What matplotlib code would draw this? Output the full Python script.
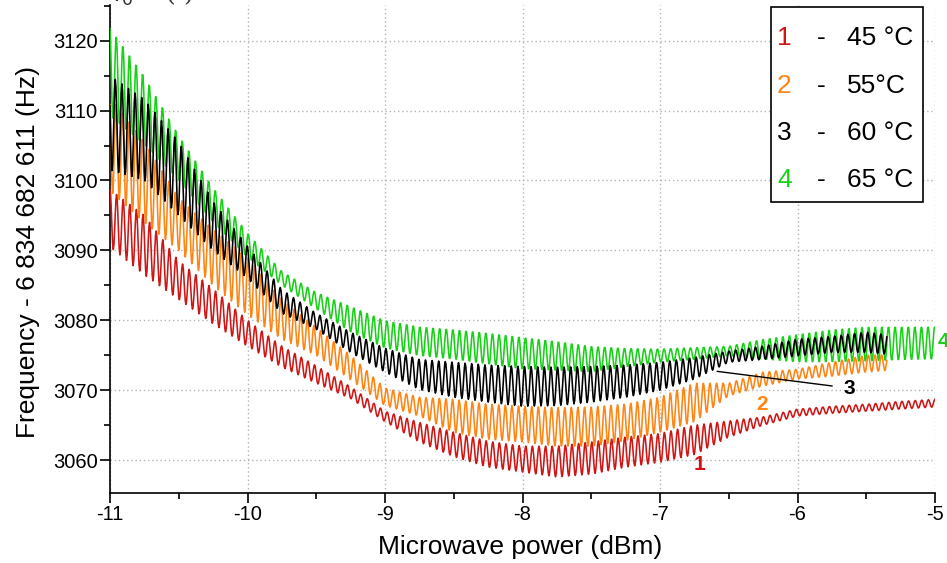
import numpy as np
import matplotlib
matplotlib.use("Agg")
import matplotlib.pyplot as plt
from matplotlib.patches import Rectangle
from matplotlib.ticker import MultipleLocator

plt.rcParams['font.family'] = ['Liberation Sans', 'DejaVu Sans']
plt.rcParams['axes.unicode_minus'] = False

# ---- data: upper / lower envelope of each oscillating trace ----
x_nodes = [-11, -10.75, -10.5, -10.25, -10, -9.75, -9.5, -9.25, -9, -8.75, -8.5,
           -8.25, -8, -7.75, -7.5, -7.25, -7, -6.75, -6.5, -6.25, -6, -5.75, -5.5, -5.25, -5]

red_upper = [3098.7, 3095, 3088.5, 3084.5, 3080, 3076.3, 3073.5, 3070.5, 3067, 3065.4, 3064,
             3062.7, 3062, 3062, 3062.6, 3063.3, 3063.8, 3065, 3065.6, 3066.2, 3067.3, 3067.7, 3068, 3068.4, 3068.7]
red_lower = [3090.5, 3086.5, 3083, 3079.5, 3076.3, 3073.3, 3071, 3068.8, 3065.5, 3062.6, 3060.5,
             3059, 3058.3, 3057.6, 3058, 3059, 3059.7, 3060.8, 3063.3, 3065, 3066.3, 3066.7, 3067, 3067.3, 3067.6]

orange_upper = [3112, 3105.5, 3097.5, 3093, 3089, 3083, 3079, 3075, 3070.3, 3069, 3068.7,
                3068, 3067.7, 3067.5, 3067.6, 3068, 3069, 3071, 3071, 3072.6, 3073, 3074, 3075, 3075.1, 3075.1]
orange_lower = [3098.5, 3094, 3090, 3085, 3080.8, 3077.3, 3075, 3071.5, 3067.8, 3066.3, 3064,
                3063, 3062.6, 3062, 3062, 3062.8, 3064, 3065.5, 3069.2, 3070.6, 3071.6, 3072, 3072.6, 3073, 3073]

black_upper = [3115, 3111.6, 3105.5, 3097, 3090.6, 3084.4, 3081, 3078.3, 3076, 3074.4, 3074,
               3073.6, 3073.4, 3073.3, 3073.4, 3073.6, 3074, 3074.7, 3075.6, 3076.3, 3077.3, 3077.7, 3078.3, 3077.7, 3077.7]
black_lower = [3101.5, 3100, 3095, 3090, 3086, 3081, 3078.7, 3075.4, 3072.6, 3070.1, 3069,
               3068.3, 3067.7, 3067.8, 3068.3, 3069, 3070, 3071.6, 3074, 3074.4, 3074.9, 3075.4, 3075.4, 3075, 3075]

green_upper = [3122, 3115, 3106.5, 3099, 3092.5, 3087, 3084, 3082, 3080, 3079.1, 3078.7,
               3078.2, 3077.6, 3077, 3076.3, 3076, 3075.9, 3076.1, 3076.3, 3077.3, 3078, 3078.7, 3079.1, 3079.1, 3079.1]
green_lower = [3109, 3105, 3100, 3094, 3089, 3085, 3081.6, 3078.3, 3076, 3074.9, 3074.4,
               3073.7, 3073, 3072.8, 3072.6, 3073.3, 3074, 3074.4, 3074.9, 3074.4, 3074, 3074, 3074.1, 3074.3, 3074.4]

x_end = {'1': -5.0, '2': -5.35, '3': -5.35, '4': -5.0}
period = 0.048  # modulation period of the traces (dBm)

legend_numbers = ['1', '2', '3', '4']
legend_temps = ['45 °C', '55°C', '60 °C', '65 °C']
colors = {'1': '#d01515', '2': '#ff8412', '3': '#000000', '4': '#18d018'}

x_ticks = [-11, -10, -9, -8, -7, -6, -5]
y_ticks = [3060, 3070, 3080, 3090, 3100, 3110, 3120]


def trace(upper, lower, xe, phase):
    x = np.arange(-11, xe + 1e-9, period / 10)
    u = np.interp(x, x_nodes, upper)
    l = np.interp(x, x_nodes, lower)
    c = (u + l) / 2
    a = (u - l) / 2
    return x, c + a * np.cos(2 * np.pi * (x + 11) / period + phase)


fig = plt.figure(figsize=(9.47, 5.63), dpi=100)
ax = fig.add_axes([110 / 947, 70 / 563, 825 / 947, 488 / 563])

series = {'4': (green_upper, green_lower, 0.3), '1': (red_upper, red_lower, 0.0),
          '2': (orange_upper, orange_lower, 0.6), '3': (black_upper, black_lower, 1.2)}
for key in ['4', '1', '2', '3']:
    up, lo, ph = series[key]
    x, y = trace(up, lo, x_end[key], ph)
    ax.plot(x, y, color=colors[key], lw=1.15, zorder=3)

ax.set_xlim(-11, -5)
ax.set_ylim(3055.3, 3125.1)
ax.set_xticks(x_ticks)
ax.set_yticks(y_ticks)
ax.xaxis.set_minor_locator(MultipleLocator(0.5))
ax.yaxis.set_minor_locator(MultipleLocator(5))
ax.grid(True, which='major', color='#b4b4b4', linestyle=(0, (1, 2)), lw=1.0, zorder=0)
for s in ['top', 'right']:
    ax.spines[s].set_visible(False)
for s in ['left', 'bottom']:
    ax.spines[s].set_linewidth(1.2)
ax.tick_params(which='major', direction='out', length=7, width=1.2, labelsize=14.5)
ax.tick_params(axis='y', which='major', pad=2)
ax.tick_params(axis='x', which='major', pad=2)
ax.tick_params(which='minor', direction='out', length=4, width=1.2)

ax.set_xlabel('Microwave power (dBm)', fontsize=19, va='center')
ax.set_ylabel('Frequency - 6 834 682 611 (Hz)', fontsize=19, va='center')
ax.xaxis.set_label_coords(0.497, -0.111)
ax.yaxis.set_label_coords(-0.0994, 0.494)

# legend box
ax.add_patch(Rectangle((0.8015, 0.596), 0.1838, 0.4, transform=ax.transAxes,
                       facecolor='white', edgecolor='black', lw=1.2, zorder=5, clip_on=False))
row_y = [0.932, 0.834, 0.738, 0.641]
for n, t, yy in zip(legend_numbers, legend_temps, row_y):
    ax.text(0.8085, yy, n, color=colors[n], fontsize=19, va='center', ha='left',
            transform=ax.transAxes, zorder=6)
    ax.text(0.862, yy, '-', color='black', fontsize=19, va='center', ha='center',
            transform=ax.transAxes, zorder=6)
    ax.text(0.893, yy, t, color='black', fontsize=19, va='center', ha='left',
            transform=ax.transAxes, zorder=6)

# curve labels
ax.text(-6.71, 3059.4, '1', color=colors['1'], fontsize=15, fontweight='bold', ha='center', va='center')
ax.text(-6.26, 3068.0, '2', color=colors['2'], fontsize=15, fontweight='bold', ha='center', va='center')
ax.annotate('3', xy=(-6.585, 3072.7), xytext=(-5.625, 3070.3), fontsize=15, fontweight='bold',
            ha='center', va='center', color='black',
            arrowprops=dict(arrowstyle='-', color='black', lw=1.0, shrinkA=6, shrinkB=0))
ax.text(-4.94, 3076.9, '4', color=colors['4'], fontsize=15, fontweight='bold', ha='center',
        va='center', clip_on=False)

# clipped title fragment at the very top
fig.text(0.119, 0.997, r'$f_0$    ( )', family='DejaVu Serif', fontsize=18, va='baseline', color='#333333')

fig.savefig('out.png', dpi=100)
